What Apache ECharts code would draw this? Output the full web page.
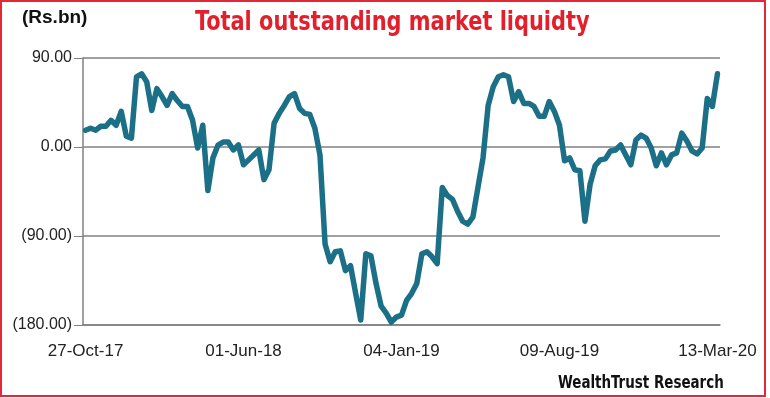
<!DOCTYPE html>
<html>
<head>
<meta charset="utf-8">
<script src="https://cdn.jsdelivr.net/npm/echarts/dist/echarts.min.js"></script>
<style>
  html, body { margin: 0; padding: 0; background: #fff; }
  #chart { width: 770px; height: 398px; }
</style>
</head>
<body>
<div id="chart"></div>
<script>
// weekly readings, first week 27-Oct-17
const startDate = new Date(2017, 9, 27)
const liquidity = [
  17, 19, 17, 21, 21, 27, 22, 36, 11, 9,
  71, 74, 66, 37, 59, 51, 42, 54, 47, 41,
  41, 27, -1, 22, -44, -11, 2, 5, 5, -3,
  2, -18, -13, -8, -3, -33, -23, 24, 34, 42,
  51, 54, 39, 34, 33, 19, -8, -98, -116, -106,
  -105, -125, -120, -148, -175, -108, -110, -138, -161, -168,
  -177, -172, -170, -155, -148, -138, -108, -106, -111, -118,
  -41, -49, -53, -65, -75, -78, -71, -41, -11, 42,
  61, 71, 73, 71, 46, 56, 44, 44, 41, 31,
  31, 46, 36, 22, -14, -11, -23, -24, -75, -38,
  -19, -13, -12, -4, -3, 2, -8, -18, 7, 12,
  9, -1, -19, -6, -18, -8, -6, 14, 6, -4,
  -7, -1, 49, 41, 74
]
const yTicks = [-180, -90, 0, 90]

const months = ['Jan', 'Feb', 'Mar', 'Apr', 'May', 'Jun', 'Jul', 'Aug', 'Sep', 'Oct', 'Nov', 'Dec']
function fmtDate (d) {
  let dd = ('0' + d.getDate()).slice(-2)
  let yy = ('' + d.getFullYear()).slice(-2)
  return dd + '-' + months[d.getMonth()] + '-' + yy
}

let weeks = []
for (let i = 0; i < liquidity.length; i++) {
  let d = new Date(startDate.getTime())
  d.setDate(d.getDate() + 7 * i)
  weeks.push(fmtDate(d))
}

function yLabel (v) {
  if (v < 0) {
    return '(' + Math.abs(v).toFixed(2) + ')'
  }
  return v.toFixed(2)
}

const myChart = echarts.init(document.getElementById('chart'))
myChart.setOption({
  animation: false,
  graphic: [
    {
      type: 'rect',
      shape: { x: 1, y: 1, width: 764, height: 395 },
      style: { fill: null, stroke: '#e3283a', lineWidth: 2 }
    },
    {
      // condensed look: squeeze a bold face horizontally
      type: 'text',
      x: 195,
      y: 9,
      scaleX: 0.86,
      style: {
        text: 'Total outstanding market liquidty',
        fill: '#e31f2b',
        font: 'bold 27px "DejaVu Sans Condensed", sans-serif',
        textAlign: 'left',
        textVerticalAlign: 'top'
      }
    },
    {
      type: 'text',
      left: 22,
      top: 8,
      style: {
        text: '(Rs.bn)',
        fill: '#111',
        font: 'bold 19px "Liberation Sans", sans-serif'
      }
    },
    {
      type: 'text',
      x: 558,
      y: 374,
      scaleX: 0.83,
      style: {
        text: 'WealthTrust Research',
        fill: '#111',
        font: 'bold 18px "DejaVu Sans Condensed", sans-serif',
        textAlign: 'left',
        textVerticalAlign: 'top'
      }
    }
  ],
  grid: {
    left: 83,
    right: 50,
    top: 58,
    bottom: 73
  },
  xAxis: {
    type: 'category',
    data: weeks,
    boundaryGap: true,
    axisLine: {
      onZero: false,
      lineStyle: { color: '#808080', width: 1.5 }
    },
    axisTick: {
      interval: 0,
      length: 6,
      lineStyle: { color: '#808080' }
    },
    axisLabel: {
      interval: 30,
      margin: 18,
      color: '#222',
      fontSize: 17,
      fontFamily: '"Liberation Sans", sans-serif',
      showMaxLabel: true
    }
  },
  yAxis: {
    type: 'value',
    min: yTicks[0],
    max: yTicks[yTicks.length - 1],
    interval: 90,
    axisLine: {
      show: true,
      lineStyle: { color: '#808080', width: 1.5 }
    },
    axisTick: {
      show: true,
      length: 9,
      lineStyle: { color: '#808080' }
    },
    axisLabel: {
      margin: 11,
      color: '#222',
      fontSize: 16,
      fontFamily: '"Liberation Sans", sans-serif',
      formatter: yLabel
    },
    splitLine: {
      lineStyle: { color: '#808080', width: 1.5 }
    }
  },
  series: [{
    name: 'Liquidity',
    type: 'line',
    data: liquidity,
    symbol: 'none',
    lineStyle: {
      color: '#1b6f86',
      width: 5.5,
      join: 'round',
      cap: 'round'
    }
  }]
})
</script>
</body>
</html>
